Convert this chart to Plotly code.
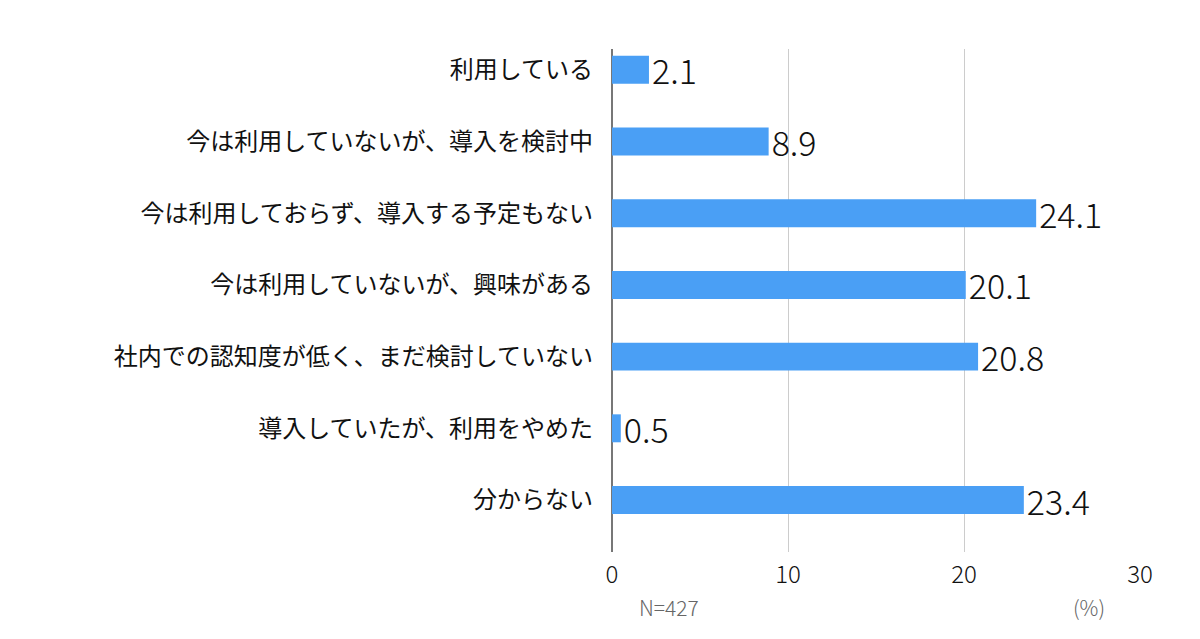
import plotly.graph_objects as go

categories = [
    "利用している",
    "今は利用していないが、導入を検討中",
    "今は利用しておらず、導入する予定もない",
    "今は利用していないが、興味がある",
    "社内での認知度が低く、まだ検討していない",
    "導入していたが、利用をやめた",
    "分からない",
]
values = [2.1, 8.9, 24.1, 20.1, 20.8, 0.5, 23.4]
x_ticks = [0, 10, 20, 30]
note_n = "N=427"
note_unit = "(%)"

FONT = "Noto Sans CJK JP"

fig = go.Figure(go.Bar(
    x=values,
    y=categories,
    orientation="h",
    marker=dict(color="#4A9FF5", line=dict(width=0)),
    text=[f"{v:.1f}" for v in values],
    textposition="outside",
    constraintext="none",
    textfont=dict(family=FONT, size=34, color="#111111", weight=300),
    cliponaxis=False,
    width=0.39,
))

fig.update_layout(
    width=1200, height=639,
    margin=dict(l=604, r=68, t=41, b=95),
    plot_bgcolor="white", paper_bgcolor="white",
    showlegend=False,
    font=dict(family=FONT),
    xaxis=dict(
        range=[0, 30],
        tickvals=x_ticks,
        ticktext=[str(t) for t in x_ticks],
        showgrid=True, gridcolor="#CCCCCC", gridwidth=1,
        zeroline=True, zerolinecolor="#777777", zerolinewidth=1.5,
        tickfont=dict(family=FONT, size=24, color="#111111", weight=300),
        ticks="", ticklabelstandoff=6,
        fixedrange=True,
    ),
    yaxis=dict(
        range=[6.725, -0.29],
        type="category",
        showgrid=False,
        tickfont=dict(family=FONT, size=24, color="#111111"),
        ticks="", ticklabelstandoff=18,
    ),
    annotations=[
        dict(x=3.24, y=-0.109, xref="x", yref="paper", text=note_n,
             showarrow=False, font=dict(family=FONT, size=21, color="#666666", weight=300),
             xanchor="center", yanchor="middle"),
        dict(x=27.1, y=-0.109, xref="x", yref="paper", text=note_unit,
             showarrow=False, font=dict(family=FONT, size=21, color="#666666", weight=300),
             xanchor="center", yanchor="middle"),
    ],
)

fig.write_html("out.html")
